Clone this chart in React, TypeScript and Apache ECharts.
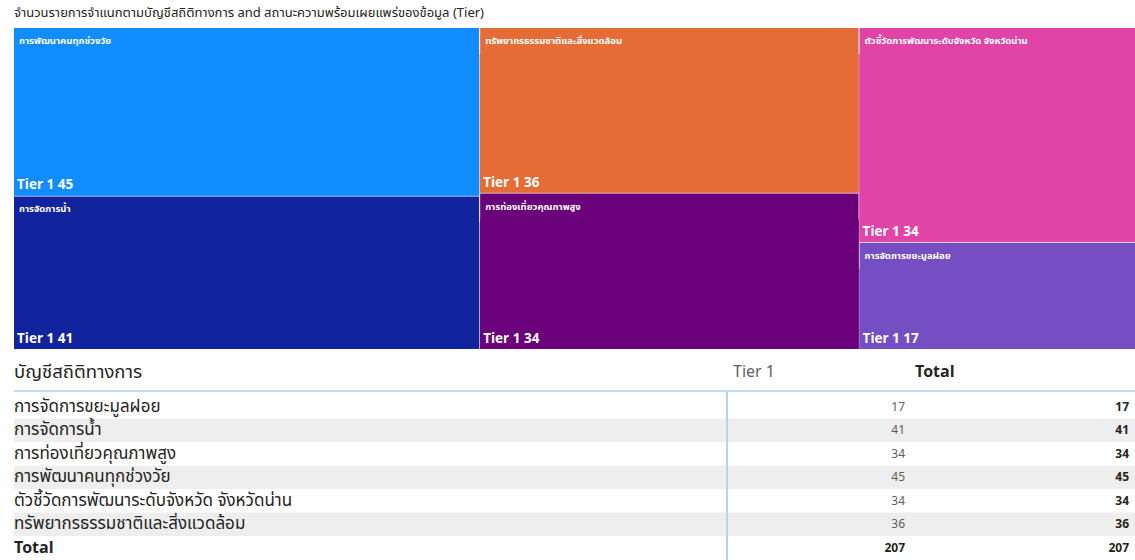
import React, { useEffect, useRef } from "react";
import * as echarts from "echarts";

const titleText = "จำนวนรายการจำแนกตามบัญชีสถิติทางการ and สถานะความพร้อมเผยแพร่ของข้อมูล (Tier)";
const categories = [
  "การจัดการขยะมูลฝอย",
  "การจัดการน้ำ",
  "การท่องเที่ยวคุณภาพสูง",
  "การพัฒนาคนทุกช่วงวัย",
  "ตัวชี้วัดการพัฒนาระดับจังหวัด จังหวัดน่าน",
  "ทรัพยากรธรรมชาติและสิ่งแวดล้อม",
];
const tierName = "Tier 1";
const tier1Values = [17, 41, 34, 45, 34, 36];
const categoryColors = ["#744EC2", "#12239E", "#6B007B", "#118DFF", "#E044A7", "#E66C37"];
const tableHeaders = ["บัญชีสถิติทางการ", "Tier 1", "Total"];
const totalLabel = "Total";

const FONT = "'Segoe UI', 'Noto Sans Thai', 'Noto Sans', 'Open Sans', sans-serif";

export default function App() {
  const ref = useRef<HTMLDivElement>(null);
  useEffect(() => {
    if (!ref.current) return;
    const chart = echarts.init(ref.current, undefined, { renderer: "svg" });

    const order = categories.map((_, i) => i).sort((a, b) => tier1Values[b] - tier1Values[a]);
    const treeData = order.map((i) => ({
      name: categories[i],
      value: tier1Values[i],
      itemStyle: { color: categoryColors[i], borderColor: categoryColors[i] },
      children: [
        {
          name: tierName,
          value: tier1Values[i],
          itemStyle: { color: categoryColors[i], borderColor: categoryColors[i] },
        },
      ],
    }));

    const total = tier1Values.reduce((s, v) => s + v, 0);

    const rowTop = 395;
    const rowH = 23.5;
    const graphics: any[] = [];
    graphics.push({
      type: "text", left: 14, top: 6,
      style: { text: titleText, font: `13px ${FONT}`, fill: "#252423" },
    });
    // table header
    graphics.push({ type: "text", x: 14, y: 372, style: { text: tableHeaders[0], font: `18.5px ${FONT}`, fill: "#252423", verticalAlign: "middle" } });
    graphics.push({ type: "text", x: 733, y: 372, style: { text: tableHeaders[1], font: `16px ${FONT}`, fill: "#605e5c", verticalAlign: "middle" } });
    graphics.push({ type: "text", x: 915, y: 372, style: { text: tableHeaders[2], font: `bold 16px ${FONT}`, fill: "#252423", verticalAlign: "middle" } });
    const rows = categories.map((c, i) => ({ label: c, tier: tier1Values[i], tot: tier1Values[i], isTotal: false }));
    rows.push({ label: totalLabel, tier: total, tot: total, isTotal: true });
    rows.forEach((r, i) => {
      const y0 = rowTop + i * rowH;
      if (i % 2 === 1) {
        graphics.push({ type: "rect", shape: { x: 14, y: y0, width: 1121, height: rowH }, style: { fill: "#eeeeee" } });
      }
      const cy = y0 + rowH / 2;
      graphics.push({ type: "text", x: 14, y: cy, style: { text: r.label, font: `${r.isTotal ? "bold 16px" : "17px"} ${FONT}`, fill: "#252423", verticalAlign: "middle" } });
      graphics.push({ type: "text", x: 905, y: cy, style: { text: String(r.tier), font: `${r.isTotal ? "bold " : ""}12px ${FONT}`, fill: r.isTotal ? "#252423" : "#605e5c", verticalAlign: "middle", align: "right" } });
      graphics.push({ type: "text", x: 1129, y: cy, style: { text: String(r.tot), font: `bold 12px ${FONT}`, fill: "#252423", verticalAlign: "middle", align: "right" } });
    });
    graphics.push({ type: "line", shape: { x1: 14, y1: 391, x2: 1135, y2: 391 }, style: { stroke: "#c5dcef", lineWidth: 2 } });
    graphics.push({ type: "line", shape: { x1: 727, y1: 392, x2: 727, y2: 560 }, style: { stroke: "#b9d4ea", lineWidth: 2 } });

    chart.setOption({
      animation: false,
      graphic: graphics,
      series: [
        {
          type: "treemap",
          left: 14,
          top: 28,
          width: 1121,
          height: 321,
          roam: false,
          nodeClick: false,
          sort: false,
          breadcrumb: { show: false },
          data: treeData,
          levels: [
            { itemStyle: { borderWidth: 0, gapWidth: 1, borderColor: "#ffffff" } },
            {
              itemStyle: { borderWidth: 0, gapWidth: 0 },
              upperLabel: {
                show: true,
                height: 26,
                position: [5, "50%"],
                verticalAlign: "middle",
                color: "#ffffff",
                fontSize: 9.5,
                fontWeight: "bold",
                fontFamily: FONT,
              },
            },
            {
              itemStyle: { borderWidth: 0, gapWidth: 0 },
              label: {
                show: true,
                position: "insideBottomLeft",
                distance: 3,
                padding: 0,
                color: "#ffffff",
                fontSize: 13.5,
                fontWeight: "bold",
                fontFamily: FONT,
                formatter: (p: any) => `${p.name} ${p.value}`,
              },
            },
          ],
        },
      ],
    });
    return () => chart.dispose();
  }, []);
  return <div ref={ref} style={{ position: "absolute", left: 0, top: 0, width: 1135, height: 560 }} />;
}
